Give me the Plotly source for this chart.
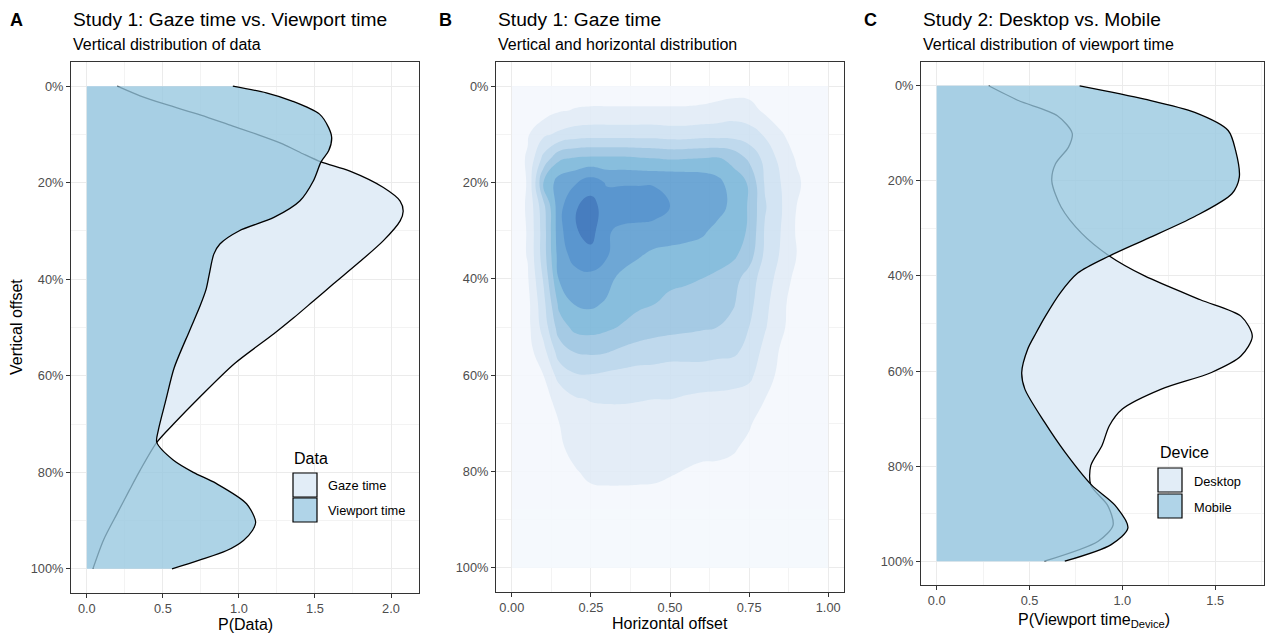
import plotly.graph_objects as go

W, H = 1265, 635
FONT = "Liberation Sans, Arial, sans-serif"

# ---------------- Panel A: Study 1, gaze vs viewport (vertical density) ----------------
a_gaze_y = [0.00, 0.02, 0.038, 0.06, 0.083, 0.10, 0.12, 0.14, 0.157, 0.176, 0.21, 0.238, 0.259, 0.279,
            0.32, 0.365, 0.41, 0.445, 0.48, 0.513, 0.575, 0.645, 0.70, 0.738, 0.796, 0.837, 0.885, 0.94, 1.00]
a_gaze_p = [0.20, 0.35, 0.52, 0.75, 0.96, 1.12, 1.29, 1.42, 1.54, 1.73, 1.95, 2.06, 2.08, 2.06,
            1.95, 1.79, 1.62, 1.49, 1.36, 1.23, 0.97, 0.74, 0.57, 0.46, 0.35, 0.28, 0.20, 0.11, 0.04]

a_view_y = [0.00, 0.014, 0.031, 0.058, 0.086, 0.107, 0.134, 0.157, 0.196, 0.238, 0.272, 0.30, 0.327, 0.348,
            0.39, 0.42, 0.455, 0.507, 0.583, 0.65, 0.713, 0.738, 0.775, 0.80, 0.823, 0.865, 0.903, 0.92,
            0.941, 0.962, 0.982, 1.00]
a_view_p = [0.96, 1.18, 1.35, 1.53, 1.59, 1.61, 1.59, 1.54, 1.49, 1.40, 1.23, 1.00, 0.875, 0.835,
            0.805, 0.785, 0.745, 0.675, 0.575, 0.52, 0.47, 0.46, 0.57, 0.70, 0.85, 1.05, 1.11, 1.09,
            1.03, 0.92, 0.74, 0.56]

# ---------------- Panel C: Study 2, desktop vs mobile ----------------
c_desk_y = [0.00, 0.031, 0.063, 0.10, 0.129, 0.164, 0.20, 0.255, 0.31, 0.358, 0.40, 0.45, 0.485, 0.527,
            0.568, 0.603, 0.638, 0.68, 0.715, 0.757, 0.799, 0.84, 0.882, 0.924, 0.958, 1.00]
c_desk_p = [0.28, 0.44, 0.65, 0.73, 0.71, 0.64, 0.62, 0.67, 0.78, 0.93, 1.12, 1.42, 1.64, 1.70,
            1.64, 1.48, 1.21, 1.00, 0.93, 0.89, 0.83, 0.83, 0.92, 0.95, 0.87, 0.58]

c_mob_y = [0.00, 0.028, 0.056, 0.094, 0.136, 0.192, 0.227, 0.275, 0.324, 0.358, 0.394, 0.436, 0.485, 0.52,
           0.554, 0.603, 0.638, 0.707, 0.77, 0.84, 0.882, 0.93, 0.965, 1.00]
c_mob_p = [0.77, 1.12, 1.39, 1.57, 1.61, 1.63, 1.59, 1.39, 1.12, 0.93, 0.76, 0.665, 0.585, 0.535,
           0.49, 0.458, 0.475, 0.58, 0.69, 0.835, 0.96, 1.03, 0.94, 0.69]

# ---------------- Panel B: 2D gaze density (binned level) ----------------
b_x = [0.00, 0.05, 0.10, 0.15, 0.20, 0.25, 0.30, 0.35, 0.40, 0.45, 0.50,
       0.55, 0.60, 0.65, 0.70, 0.75, 0.80, 0.85, 0.90, 0.95, 1.00]
b_y = [0.00, 0.05, 0.10, 0.15, 0.20, 0.25, 0.30, 0.35, 0.40, 0.45, 0.50,
       0.55, 0.60, 0.65, 0.70, 0.75, 0.80, 0.85, 0.90, 0.95, 1.00]
b_z = [
    [0, 0, 0, 0, 0, 0, 0, 0, 0, 0, 0, 0, 0, 0, 0, 0, 0, 0, 0, 0, 0],
    [0, 0, 0, 0.4, 0.55, 0.6, 0.6, 0.6, 0.6, 0.6, 0.6, 0.6, 0.65, 0.8, 1.0, 0.9, 0.3, 0, 0, 0, 0],
    [0, 0.4, 1.3, 1.7, 2.0, 2.1, 2.1, 2.1, 2.1, 2.1, 2.0, 2.0, 2.1, 2.1, 2.1, 1.9, 1.4, 0.6, 0.1, 0, 0],
    [0, 0.6, 2.8, 4.3, 4.6, 4.7, 4.7, 4.7, 4.6, 4.5, 4.4, 4.45, 4.5, 4.6, 4.2, 3.3, 2.2, 1.2, 0.4, 0, 0],
    [0, 0.55, 4.5, 6.0, 6.4, 7.0, 6.4, 6.4, 6.4, 6.4, 6.4, 6.3, 6.2, 5.8, 5.0, 4.4, 2.4, 1.5, 0.7, 0, 0],
    [0, 0.6, 3.2, 6.2, 7.4, 7.9, 7.0, 7.1, 7.1, 7.0, 6.5, 6.3, 6.2, 5.9, 5.2, 4.4, 2.6, 1.6, 0.5, 0, 0],
    [0, 0.55, 3.0, 6.2, 7.4, 7.9, 6.6, 6.3, 6.2, 6.1, 6.0, 5.9, 5.7, 5.2, 4.9, 4.4, 2.4, 1.5, 0.4, 0, 0],
    [0, 0.55, 3.0, 6.0, 6.9, 7.2, 6.6, 6.0, 5.6, 5.3, 5.2, 5.1, 5.0, 4.9, 4.7, 4.0, 2.3, 1.4, 0.5, 0, 0],
    [0, 0.4, 2.6, 5.6, 6.1, 6.2, 5.8, 5.2, 5.0, 4.9, 4.8, 4.7, 4.5, 4.3, 3.9, 3.0, 2.0, 1.1, 0.2, 0, 0],
    [0, 0.2, 2.2, 4.8, 5.6, 5.7, 5.4, 5.0, 4.7, 4.55, 4.2, 4.0, 3.9, 3.8, 3.6, 2.8, 1.8, 0.8, 0, 0, 0],
    [0, 0.2, 1.9, 4.0, 4.8, 4.9, 4.7, 4.4, 4.1, 3.9, 3.8, 3.7, 3.6, 3.5, 3.2, 2.5, 1.6, 0.7, 0, 0, 0],
    [0, 0.1, 1.2, 3.0, 3.6, 3.7, 3.6, 3.3, 3.1, 3.0, 2.9, 2.9, 2.9, 2.8, 2.7, 2.2, 1.2, 0.4, 0, 0, 0],
    [0, 0, 0.5, 1.9, 2.4, 2.45, 2.3, 2.2, 2.1, 2.1, 2.0, 2.0, 2.0, 1.9, 1.9, 1.7, 1.0, 0.2, 0, 0, 0],
    [0, 0, 0.2, 0.8, 1.4, 1.55, 1.6, 1.6, 1.55, 1.5, 1.5, 1.4, 1.3, 1.3, 1.2, 1.1, 0.5, 0, 0, 0, 0],
    [0, 0, 0, 0.5, 1.0, 1.1, 1.1, 1.1, 1.1, 1.1, 1.05, 1.0, 1.0, 1.0, 0.9, 0.6, 0.1, 0, 0, 0, 0],
    [0, 0, 0, 0.3, 0.9, 1.0, 1.0, 1.0, 0.95, 0.9, 0.9, 0.85, 0.8, 0.75, 0.6, 0.3, 0, 0, 0, 0, 0],
    [0, 0, 0, 0, 0.4, 0.8, 0.85, 0.85, 0.8, 0.75, 0.6, 0.45, 0.3, 0.3, 0.25, 0.1, 0, 0, 0, 0, 0],
    [0, 0, 0, 0, 0, 0.2, 0.25, 0.25, 0.25, 0.25, 0.15, 0, 0, 0, 0, 0, 0, 0, 0, 0, 0],
    [0, 0, 0, 0, 0, 0, 0, 0, 0, 0, 0, 0, 0, 0, 0, 0, 0, 0, 0, 0, 0],
    [0, 0, 0, 0, 0, 0, 0, 0, 0, 0, 0, 0, 0, 0, 0, 0, 0, 0, 0, 0, 0],
    [0, 0, 0, 0, 0, 0, 0, 0, 0, 0, 0, 0, 0, 0, 0, 0, 0, 0, 0, 0, 0],
]
b_level_colors = ["#f4f8fd", "#e2ecf7", "#cfe2f2", "#b9d5ec", "#9cc5e1",
                  "#7cb7da", "#5f9ed1", "#498bca", "#346fb8"]

# ---------------- ticks ----------------
pct_vals = [0, 0.2, 0.4, 0.6, 0.8, 1.0]
pct_text = ["0%", "20%", "40%", "60%", "80%", "100%"]
pct_minor = [0.1, 0.3, 0.5, 0.7, 0.9]
a_xvals = [0, 0.5, 1.0, 1.5, 2.0]
a_xtext = ["0.0", "0.5", "1.0", "1.5", "2.0"]
a_xminor = [0.25, 0.75, 1.25, 1.75]
b_xvals = [0, 0.25, 0.5, 0.75, 1.0]
b_xtext = ["0.00", "0.25", "0.50", "0.75", "1.00"]
b_xminor = [0.125, 0.375, 0.625, 0.875]
c_xvals = [0, 0.5, 1.0, 1.5]
c_xtext = ["0.0", "0.5", "1.0", "1.5"]
c_xminor = [0.25, 0.75, 1.25, 1.75]

LIGHT = "rgb(226,237,247)"
BLUE_A = "rgba(150,198,223,0.78)"
KEY_BLUE = "rgb(176,212,232)"


def px(x):
    return x / W


def py(y):
    return 1 - y / H


fig = go.Figure()

# Panel A
fig.add_trace(go.Scatter(x=a_gaze_p, y=a_gaze_y, mode="lines", fill="tozerox", fillcolor=LIGHT,
                         line=dict(color="black", width=1.3, shape="spline", smoothing=0.8),
                         xaxis="x", yaxis="y", hoverinfo="skip"))
fig.add_trace(go.Scatter(x=a_view_p, y=a_view_y, mode="lines", fill="tozerox", fillcolor=BLUE_A,
                         line=dict(color="black", width=1.3, shape="spline", smoothing=0.8),
                         xaxis="x", yaxis="y", hoverinfo="skip"))

# Panel B
cs = [[k / 8, c] for k, c in enumerate(b_level_colors)]
fig.add_trace(go.Contour(x=b_x, y=b_y, z=b_z, xaxis="x2", yaxis="y2",
                         autocontour=False,
                         contours=dict(start=0.5, end=7.5, size=1, coloring="fill", showlines=False),
                         colorscale=cs, showscale=False, opacity=0.9,
                         line=dict(width=0, smoothing=1.3), hoverinfo="skip"))

# Panel C
fig.add_trace(go.Scatter(x=c_desk_p, y=c_desk_y, mode="lines", fill="tozerox", fillcolor=LIGHT,
                         line=dict(color="black", width=1.3, shape="spline", smoothing=0.8),
                         xaxis="x3", yaxis="y3", hoverinfo="skip"))
fig.add_trace(go.Scatter(x=c_mob_p, y=c_mob_y, mode="lines", fill="tozerox", fillcolor=BLUE_A,
                         line=dict(color="black", width=1.3, shape="spline", smoothing=0.8),
                         xaxis="x3", yaxis="y3", hoverinfo="skip"))


def xcfg(domain, anchor, rng, vals, text, minor):
    return dict(domain=domain, anchor=anchor, range=rng, tickmode="array", tickvals=vals, ticktext=text,
                showgrid=True, gridcolor="#ebebeb", gridwidth=1,
                minor=dict(tickmode="array", tickvals=minor, showgrid=True, gridcolor="#f3f3f3",
                           gridwidth=0.6, ticks=""),
                showline=True, mirror=True, linecolor="#333333", linewidth=1,
                ticks="outside", ticklen=4, tickwidth=1, tickcolor="#333333",
                tickfont=dict(family=FONT, size=12.8, color="#4d4d4d"),
                zeroline=False, fixedrange=True)


def ycfg(domain, anchor):
    return dict(domain=domain, anchor=anchor, range=[1.05, -0.05], tickmode="array",
                tickvals=pct_vals, ticktext=pct_text,
                showgrid=True, gridcolor="#ebebeb", gridwidth=1,
                minor=dict(tickmode="array", tickvals=pct_minor, showgrid=True, gridcolor="#f3f3f3",
                           gridwidth=0.6, ticks=""),
                showline=True, mirror=True, linecolor="#333333", linewidth=1,
                ticks="outside", ticklen=4, tickwidth=1, tickcolor="#333333",
                tickfont=dict(family=FONT, size=12.8, color="#4d4d4d"),
                zeroline=False, fixedrange=True)


dA_x = [px(71), px(419)]
dA_y = [py(593), py(62)]
dB_x = [px(496), px(844)]
dB_y = [py(592), py(62)]
dC_x = [px(921), px(1264)]
dC_y = [py(585), py(62)]

annotations = []


def ann(text, x, y, size, color="black", xanchor="left", angle=0):
    annotations.append(dict(text=text, x=px(x), y=py(y), xref="paper", yref="paper",
                            xanchor=xanchor, yanchor="middle", showarrow=False, textangle=angle,
                            font=dict(family=FONT, size=size, color=color)))


# panel letters, titles, subtitles
for letter, lx, title, sub, tx in [
    ("A", 8, "Study 1: Gaze time vs. Viewport time", "Vertical distribution of data", 71),
    ("B", 437, "Study 1: Gaze time", "Vertical and horizontal distribution", 496),
    ("C", 862, "Study 2: Desktop vs. Mobile", "Vertical distribution of viewport time", 921),
]:
    ann("<b>%s</b>" % letter, lx, 19.5, 18)
    ann(title, tx, 19.3, 19.2)
    ann(sub, tx, 44, 16)

# axis titles
ann("Vertical offset", 16.5, 327.5, 16, angle=-90, xanchor="center")
ann("P(Data)", 245, 624, 16, xanchor="center")
ann("Horizontal offset", 670, 623.5, 16, xanchor="center")
ann("P(Viewport time<sub>Device</sub>)", 1094, 620, 16, xanchor="center")

# legends (drawn manually as ggplot-style keys)
shapes = []


def key(x0, y0, fill):
    shapes.append(dict(type="rect", xref="paper", yref="paper", x0=px(x0), x1=px(x0 + 24),
                       y0=py(y0 + 24), y1=py(y0), fillcolor=fill,
                       line=dict(color="black", width=1.2), layer="above"))


ann("Data", 292, 458, 16)
key(293, 473, LIGHT)
key(293, 498, KEY_BLUE)
ann("Gaze time", 326, 485.5, 12.8)
ann("Viewport time", 326, 511, 12.8)

ann("Device", 1158, 452, 16)
key(1158, 468, LIGHT)
key(1158, 494, KEY_BLUE)
ann("Desktop", 1192, 481, 12.8)
ann("Mobile", 1192, 507, 12.8)

fig.update_layout(
    width=W, height=H, autosize=False,
    margin=dict(l=0, r=0, t=0, b=0, pad=0),
    paper_bgcolor="white", plot_bgcolor="white",
    showlegend=False,
    font=dict(family=FONT, color="black"),
    xaxis=xcfg(dA_x, "y", [-0.104, 2.184], a_xvals, a_xtext, a_xminor),
    yaxis=ycfg(dA_y, "x"),
    xaxis2=xcfg(dB_x, "y2", [-0.05, 1.05], b_xvals, b_xtext, b_xminor),
    yaxis2=ycfg(dB_y, "x2"),
    xaxis3=xcfg(dC_x, "y3", [-0.0845, 1.763], c_xvals, c_xtext, c_xminor),
    yaxis3=ycfg(dC_y, "x3"),
    annotations=annotations,
    shapes=shapes,
)

fig.write_html("out.html", config={"displayModeBar": False},
               post_script="document.body.style.margin='0';")
